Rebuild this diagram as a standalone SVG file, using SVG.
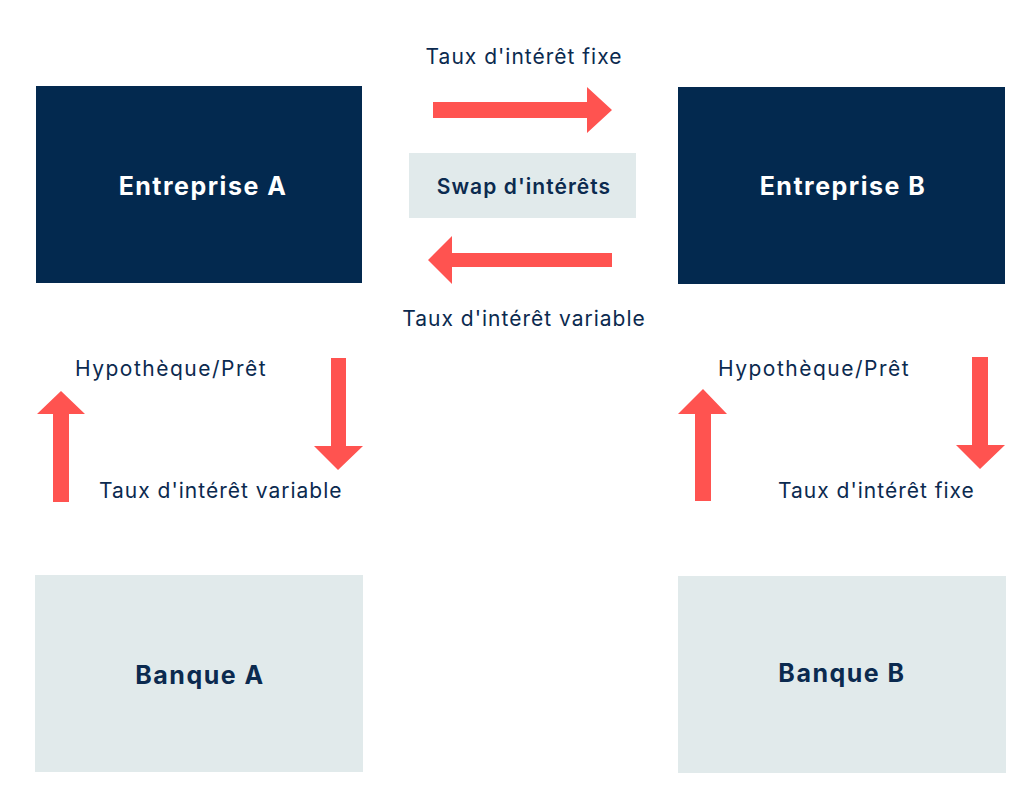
<svg xmlns="http://www.w3.org/2000/svg" width="1024" height="800" viewBox="0 0 1024 800">
<style>
.dark{fill:#03294f}
.light{fill:#e1eaeb}
.arrow{fill:#ff5350}
.lbl{font-family:Inter,"Noto Sans",sans-serif;font-size:21px;letter-spacing:1px;fill:#0b2a4f}
.hyp{letter-spacing:1.5px}
.title{font-family:Inter,"Noto Sans",sans-serif;font-size:25px;font-weight:700;letter-spacing:1.5px}
.swap{font-family:Inter,"Noto Sans",sans-serif;font-size:21px;font-weight:600;letter-spacing:1.05px;fill:#0b2a4f}
</style>
<rect width="1024" height="800" fill="#ffffff"/>
<g id="entreprise-a">
<rect class="dark" x="36" y="86" width="326" height="197"/>
<text class="title" x="203" y="195" text-anchor="middle" fill="#ffffff">Entreprise A</text>
</g>
<g id="entreprise-b">
<rect class="dark" x="678" y="87" width="327" height="197"/>
<text class="title" x="843" y="195" text-anchor="middle" fill="#ffffff">Entreprise B</text>
</g>
<g id="swap">
<rect class="light" x="409" y="153" width="227" height="65"/>
<text class="swap" x="524" y="194" text-anchor="middle">Swap d'intérêts</text>
</g>
<g id="banque-a">
<rect class="light" x="35" y="575" width="328" height="197"/>
<text class="title" x="200" y="684" text-anchor="middle" fill="#0b2a4f">Banque A</text>
</g>
<g id="banque-b">
<rect class="light" x="678" y="576" width="328" height="197"/>
<text class="title" x="842" y="682" text-anchor="middle" fill="#0b2a4f">Banque B</text>
</g>
<g id="connectors">
<polygon class="arrow" points="433,102 587,102 587,87 612,110 587,133 587,118 433,118"/>
<polygon class="arrow" points="612,253 452,253 452,236 428,260 452,284 452,267 612,267"/>
<polygon class="arrow" points="53,502 53,414 37,414 61,391 85,414 69,414 69,502"/>
<polygon class="arrow" points="331,358 331,446 314,446 338,470 363,446 346,446 346,358"/>
<polygon class="arrow" points="695,501 695,414 678,414 703,389 727,414 711,414 711,501"/>
<polygon class="arrow" points="972,357 972,445 956,445 980,469 1005,445 988,445 988,357"/>
<text class="lbl" x="524" y="64" text-anchor="middle">Taux d'intérêt fixe</text>
<text class="lbl" x="524" y="326" text-anchor="middle">Taux d'intérêt variable</text>
<text class="lbl hyp" x="75" y="376">Hypothèque/Prêt</text>
<text class="lbl" x="99" y="498">Taux d'intérêt variable</text>
<text class="lbl hyp" x="718" y="376">Hypothèque/Prêt</text>
<text class="lbl" x="778" y="498">Taux d'intérêt fixe</text>
</g>
</svg>
